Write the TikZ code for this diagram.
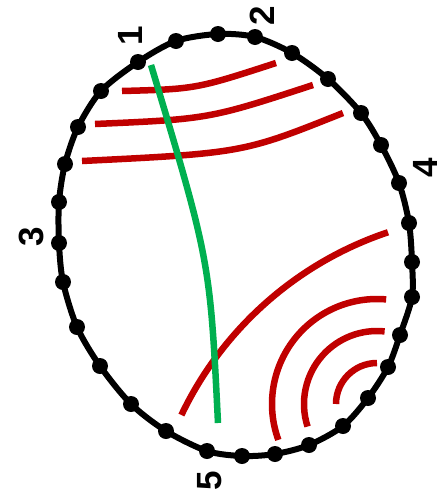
\documentclass[tikz,border=0pt]{standalone}
\usepackage{fontspec}
\setmainfont{Liberation Sans}
\usepackage{tikz}
\definecolor{arcred}{HTML}{C00000}
\definecolor{pathgreen}{HTML}{00B050}

\begin{document}
\begin{tikzpicture}[x=1pt,y=-1pt,
  rim/.style={line width=6pt,black},
  band/.style={line width=6.5pt,arcred},
  num/.style={font=\fontsize{35}{35}\selectfont\bfseries,rotate=90,inner sep=0pt}]
\useasboundingbox (0,0) rectangle (445,499);
\draw[rim] plot[smooth cycle] coordinates {(101,91) (138,62) (176,41) (218,34) (255,37) (292,53) (328,79) (361,113) (381,145) (399,183) (409,223) (412,262) (412,297) (400,335) (388,367) (368,398) (343,426) (309,445) (275,454) (242,456) (207,451) (166,431) (131,404) (100,366) (77,327) (63,282) (59,243) (59,202) (65,164) (78,127)};
\foreach \p in {(101,91),(138,62),(176,41),(218,34),(255,37),(292,53),(328,79),(361,113),(381,145),(399,183),(409,223),(412,262),(412,297),(400,335),(388,367),(368,398),(343,426),(309,445),(275,454),(242,456),(207,451),(166,431),(131,404),(100,366),(77,327),(63,282),(59,243),(59,202),(65,164),(78,127)}{\fill \p circle (8pt);}
% upper bands
\draw[band] (122,91) .. controls (196,89) .. (276,63);
\draw[band] (95,124) .. controls (209,119) .. (313,85);
\draw[band] (82,161) .. controls (243,153) .. (343,113);
% lower bands
\coordinate (far) at (500,567);
\coordinate (hub) at (377,404);
\draw[band] ([shift={(205.5:353)}]far) arc[start angle=205.5,end angle=251.5,radius=353];
\foreach \r/\a/\b in {41/180/270,73/162/276,105/160/275}{\draw[band] ([shift={(\a:\r)}]hub) arc[start angle=\a,end angle=\b,radius=\r];}
% track
\draw[line width=6.5pt,pathgreen] (151,65) .. controls (210,261) .. (218,423);
% labels
\node[num] (n1) at (130,36) {1};
\node[num] (n2) at (262,16) {2};
\node[num] (n3) at (31,237) {3};
\node[num] (n4) at (425,168) {4};
\node[num] (n5) at (210,481) {5};
\end{tikzpicture}
\end{document}
